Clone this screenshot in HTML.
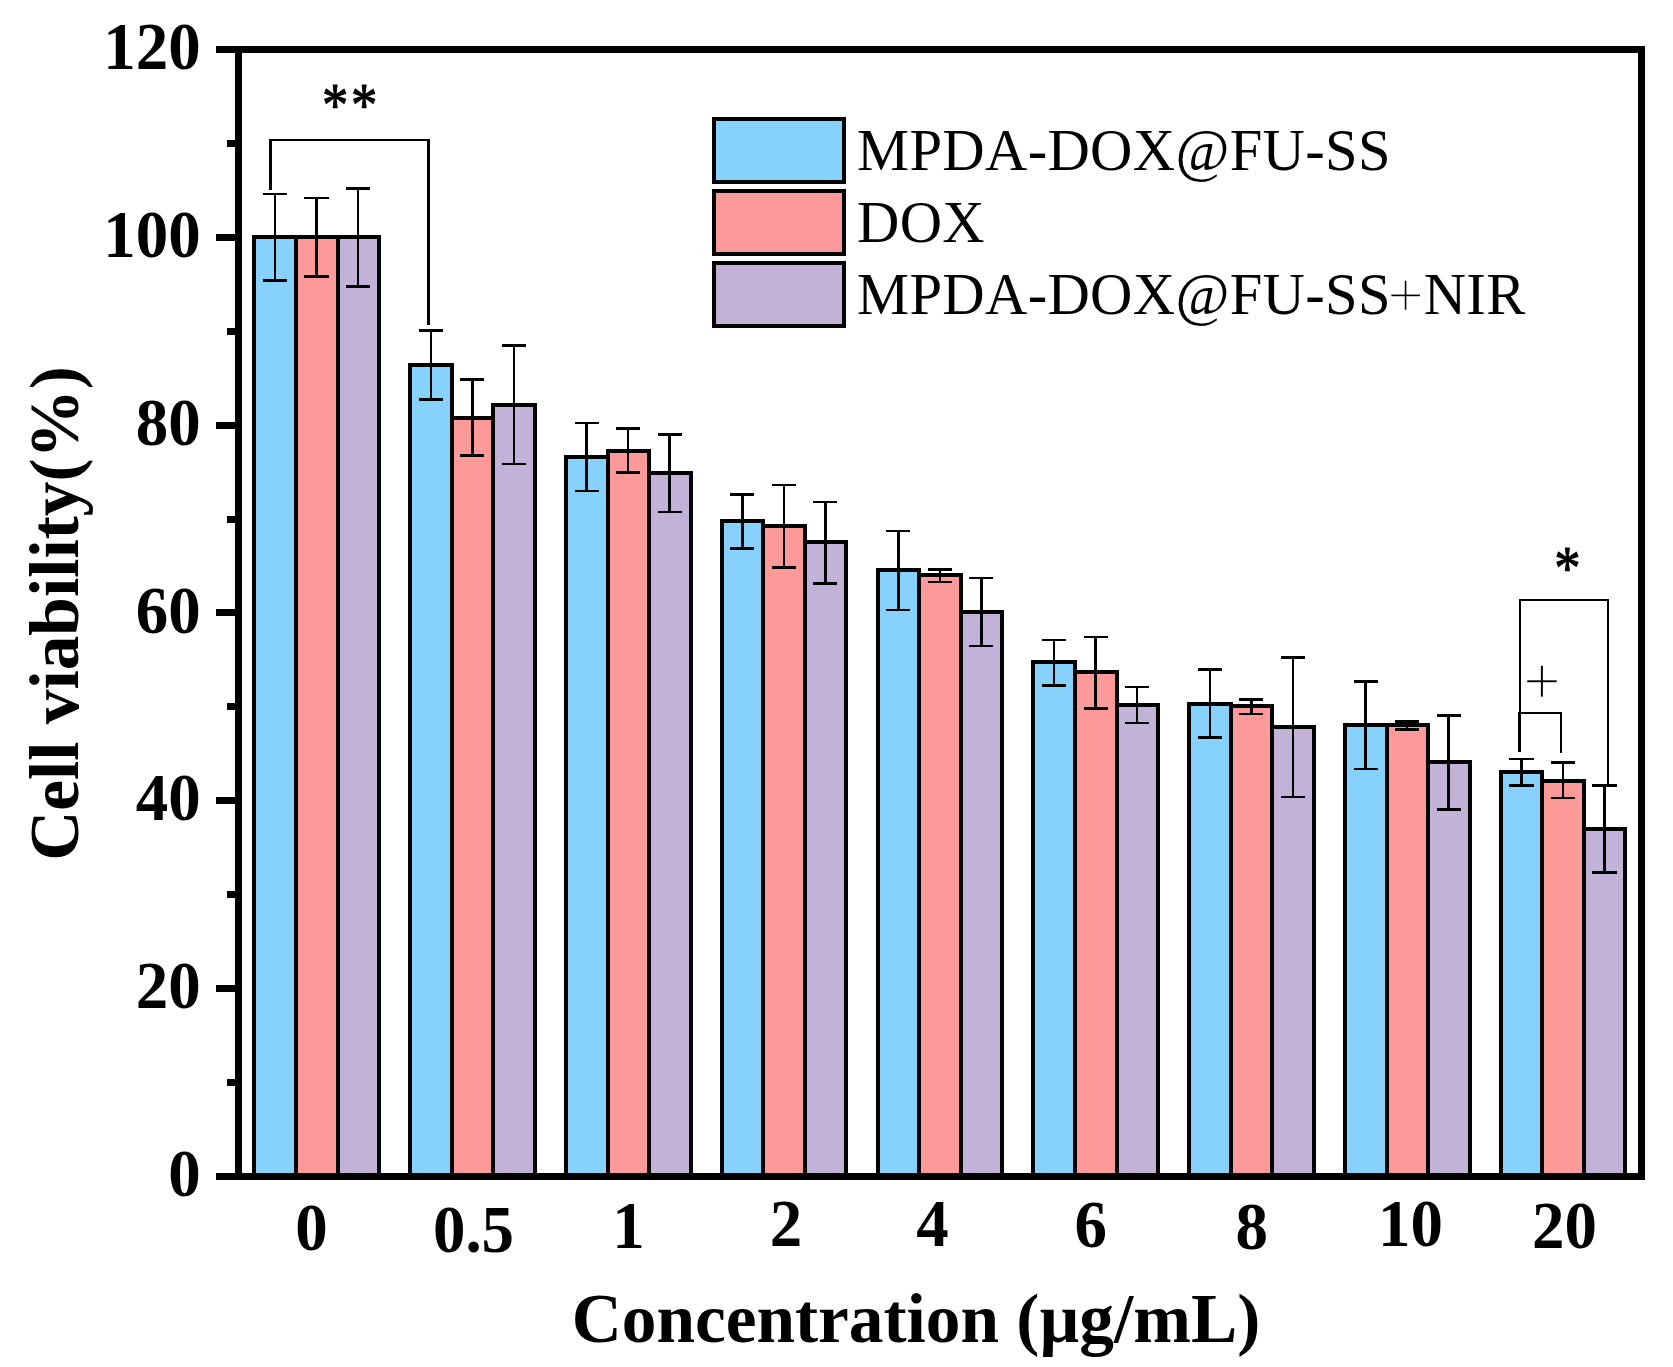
<!DOCTYPE html>
<html lang="en"><head><meta charset="utf-8"><title>Cell viability</title>
<style>html,body{margin:0;padding:0;background:#fff}svg{display:block}text{font-family:"Liberation Serif","DejaVu Serif",serif;fill:#000}.b{font-weight:bold}.tk{font-weight:bold;font-size:68px}.lg{font-size:58.6px}</style></head><body>
<svg width="1673" height="1367" viewBox="0 0 1673 1367">
<rect width="1673" height="1367" fill="#fff"/>
<g stroke="#000" stroke-width="4" stroke-linejoin="miter">
<rect x="254" y="237" width="42" height="939.5" fill="#87D2FC"/>
<rect x="296" y="237" width="42" height="939.5" fill="#FC9A9A"/>
<rect x="338" y="237" width="41" height="939.5" fill="#C3B2D8"/>
<rect x="410" y="365" width="42" height="811.5" fill="#87D2FC"/>
<rect x="452" y="418" width="41" height="758.5" fill="#FC9A9A"/>
<rect x="493" y="405" width="42" height="771.5" fill="#C3B2D8"/>
<rect x="566" y="457" width="42" height="719.5" fill="#87D2FC"/>
<rect x="608" y="451" width="41" height="725.5" fill="#FC9A9A"/>
<rect x="649" y="473" width="42" height="703.5" fill="#C3B2D8"/>
<rect x="722" y="521" width="41" height="655.5" fill="#87D2FC"/>
<rect x="763" y="526" width="42" height="650.5" fill="#FC9A9A"/>
<rect x="805" y="542" width="41" height="634.5" fill="#C3B2D8"/>
<rect x="878" y="570" width="41" height="606.5" fill="#87D2FC"/>
<rect x="919" y="575" width="42" height="601.5" fill="#FC9A9A"/>
<rect x="961" y="612" width="41" height="564.5" fill="#C3B2D8"/>
<rect x="1033" y="662" width="42" height="514.5" fill="#87D2FC"/>
<rect x="1075" y="672" width="42" height="504.5" fill="#FC9A9A"/>
<rect x="1117" y="705" width="41" height="471.5" fill="#C3B2D8"/>
<rect x="1189" y="704" width="42" height="472.5" fill="#87D2FC"/>
<rect x="1231" y="706" width="41" height="470.5" fill="#FC9A9A"/>
<rect x="1272" y="727" width="42" height="449.5" fill="#C3B2D8"/>
<rect x="1345" y="725" width="42" height="451.5" fill="#87D2FC"/>
<rect x="1387" y="725" width="41" height="451.5" fill="#FC9A9A"/>
<rect x="1428" y="762" width="42" height="414.5" fill="#C3B2D8"/>
<rect x="1501" y="772" width="41" height="404.5" fill="#87D2FC"/>
<rect x="1542" y="781" width="42" height="395.5" fill="#FC9A9A"/>
<rect x="1584" y="829" width="41" height="347.5" fill="#C3B2D8"/>
</g>
<g stroke="#000" stroke-width="2.5" fill="none" shape-rendering="crispEdges">
<path d="M275.00 194V280.5M262.95 194H287.05M262.95 280.5H287.05"/>
<path d="M316.50 198V276.5M304.45 198H328.55M304.45 276.5H328.55"/>
<path d="M358.00 188.5V286.5M345.95 188.5H370.05M345.95 286.5H370.05"/>
<path d="M430.81 330.5V399.5M418.76 330.5H442.86M418.76 399.5H442.86"/>
<path d="M472.31 379.5V455.5M460.26 379.5H484.36M460.26 455.5H484.36"/>
<path d="M513.81 345.5V464M501.76 345.5H525.86M501.76 464H525.86"/>
<path d="M586.62 423V491M574.57 423H598.67M574.57 491H598.67"/>
<path d="M628.12 428.5V472.5M616.07 428.5H640.17M616.07 472.5H640.17"/>
<path d="M669.62 434.5V512M657.57 434.5H681.67M657.57 512H681.67"/>
<path d="M742.44 494.25V548.25M730.39 494.25H754.49M730.39 548.25H754.49"/>
<path d="M783.94 484.75V567.4M771.89 484.75H795.99M771.89 567.4H795.99"/>
<path d="M825.44 501.9V583.25M813.39 501.9H837.49M813.39 583.25H837.49"/>
<path d="M898.25 531V609.75M886.20 531H910.30M886.20 609.75H910.30"/>
<path d="M939.75 569.25V581.75M927.70 569.25H951.80M927.70 581.75H951.80"/>
<path d="M981.25 578V645.75M969.20 578H993.30M969.20 645.75H993.30"/>
<path d="M1054.06 639.75V685.5M1042.01 639.75H1066.11M1042.01 685.5H1066.11"/>
<path d="M1095.56 636.75V708.5M1083.51 636.75H1107.61M1083.51 708.5H1107.61"/>
<path d="M1137.06 687V722.75M1125.01 687H1149.11M1125.01 722.75H1149.11"/>
<path d="M1209.88 669.5V737.25M1197.83 669.5H1221.93M1197.83 737.25H1221.93"/>
<path d="M1251.38 699.5V714M1239.33 699.5H1263.43M1239.33 714H1263.43"/>
<path d="M1292.88 657.25V796.75M1280.83 657.25H1304.93M1280.83 796.75H1304.93"/>
<path d="M1365.69 681.5V768.75M1353.64 681.5H1377.74M1353.64 768.75H1377.74"/>
<path d="M1407.19 721.7V729.5M1395.14 721.7H1419.24M1395.14 729.5H1419.24"/>
<path d="M1448.69 715.5V809.25M1436.64 715.5H1460.74M1436.64 809.25H1460.74"/>
<path d="M1521.50 759V785.5M1509.45 759H1533.55M1509.45 785.5H1533.55"/>
<path d="M1563.00 762.5V798M1550.95 762.5H1575.05M1550.95 798H1575.05"/>
<path d="M1604.50 785.5V872.25M1592.45 785.5H1616.55M1592.45 872.25H1616.55"/>
</g>
<g stroke="#000" stroke-width="7" fill="none" stroke-linecap="butt" shape-rendering="crispEdges">
<path d="M216 49.5H1645M216 1176.5H1645M238.5 46V1180M1641.5 46V1180"/>
<path d="M227 1082.49H236"/>
<path d="M216 988.58H236"/>
<path d="M227 894.68H236"/>
<path d="M216 800.77H236"/>
<path d="M227 706.86H236"/>
<path d="M216 612.95H236"/>
<path d="M227 519.04H236"/>
<path d="M216 425.13H236"/>
<path d="M227 331.23H236"/>
<path d="M216 237.32H236"/>
<path d="M227 143.41H236"/>
</g>
<text class="tk" transform="translate(200.7 1196.10) scale(0.955 1)" text-anchor="end">0</text>
<text class="tk" transform="translate(200.7 1008.28) scale(0.955 1)" text-anchor="end">20</text>
<text class="tk" transform="translate(200.7 820.47) scale(0.955 1)" text-anchor="end">40</text>
<text class="tk" transform="translate(200.7 632.65) scale(0.955 1)" text-anchor="end">60</text>
<text class="tk" transform="translate(200.7 444.83) scale(0.955 1)" text-anchor="end">80</text>
<text class="tk" transform="translate(200.7 257.02) scale(0.955 1)" text-anchor="end">100</text>
<text class="tk" transform="translate(200.7 69.20) scale(0.955 1)" text-anchor="end">120</text>
<text class="tk" transform="translate(311.5 1250.3) scale(0.955 1)" text-anchor="middle">0</text>
<text class="tk" transform="translate(473.5 1251.5) scale(0.955 1)" text-anchor="middle">0.5</text>
<text class="tk" transform="translate(628.5 1248) scale(0.955 1)" text-anchor="middle">1</text>
<text class="tk" transform="translate(786 1245.5) scale(0.955 1)" text-anchor="middle">2</text>
<text class="tk" transform="translate(932.5 1245.5) scale(0.955 1)" text-anchor="middle">4</text>
<text class="tk" transform="translate(1090.8 1246.8) scale(0.955 1)" text-anchor="middle">6</text>
<text class="tk" transform="translate(1251.8 1248.8) scale(0.955 1)" text-anchor="middle">8</text>
<text class="tk" transform="translate(1410.4 1245.8) scale(0.955 1)" text-anchor="middle">10</text>
<text class="tk" transform="translate(1564.5 1247.5) scale(0.955 1)" text-anchor="middle">20</text>
<text class="b" x="916" y="1342" font-size="69.3" text-anchor="middle">Concentration (µg/mL)</text>
<text class="b" transform="translate(78.3 613.5) rotate(-90)" font-size="69.3" text-anchor="middle">Cell viability(%)</text>
<rect x="714" y="119" width="130" height="63" fill="#87D2FC" stroke="#000" stroke-width="4"/>
<text class="lg" x="857" y="170" letter-spacing="0.33">MPDA-DOX@FU-SS</text>
<rect x="714" y="191" width="130" height="63" fill="#FC9A9A" stroke="#000" stroke-width="4"/>
<text class="lg" x="857" y="242" letter-spacing="0.33">DOX</text>
<rect x="714" y="263" width="130" height="63" fill="#C3B2D8" stroke="#000" stroke-width="4"/>
<text class="lg" x="857" y="314" letter-spacing="0.33">MPDA-DOX@FU-SS<tspan font-size="65" dx="-3.7" dy="2.6" stroke="#fff" stroke-width="1.6">+</tspan><tspan dx="-0.6" dy="-2.6">NIR</tspan></text>
<g stroke="#000" stroke-width="2.5" fill="none" stroke-linejoin="miter" shape-rendering="crispEdges">
<path d="M270.5 189.5V140H428.5V325"/>
<path d="M1520 714V600H1608V784"/>
<path d="M1519.5 752V713H1561V753"/>
</g>
<text transform="translate(350.9 124.9) scale(0.89 1.05)" font-size="59" letter-spacing="3.1" text-anchor="middle" stroke="#000" stroke-width="1.1" stroke-linejoin="round">**</text>
<text transform="translate(1567.3 588.4) scale(0.89 1.05)" font-size="59" text-anchor="middle" stroke="#000" stroke-width="1.1" stroke-linejoin="round">*</text>
<text transform="translate(1541.9 705.2) scale(1 1.04)" font-size="66.1" text-anchor="middle" stroke="#fff" stroke-width="1.27">+</text>
</svg></body></html>
